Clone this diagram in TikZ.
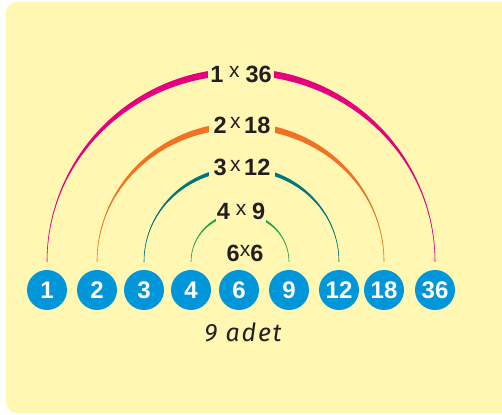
\documentclass[tikz,border=0pt]{standalone}
\usepackage{fontspec}
\setmainfont{Liberation Sans}
\newfontfamily\handfont[LetterSpace=7]{Fira Sans}
\usetikzlibrary{calc}
\definecolor{bgyel}{HTML}{FFF7B2}
\definecolor{divblue}{HTML}{0096D9}
\definecolor{arcmag}{HTML}{E5007D}
\definecolor{arcora}{HTML}{F07323}
\definecolor{arcteal}{HTML}{00757C}
\definecolor{arcgrn}{HTML}{1DA64A}
\definecolor{inkdark}{HTML}{231F20}
\newcommand{\tms}[3]{#1\raisebox{4.5pt}{\fontsize{21}{21}\selectfont\mdseries#3x#3}#2}
\newcommand{\pairarc}[5]{%
  \fill[#5] let \p1=(#1.north), \p2=(#2.north), \n1={(\x2-\x1)/2} in
    (\x1,\y1+8pt) arc[start angle=180, end angle=0, x radius={\n1*1pt}, y radius={(#3+#4/2)*1pt}]
    arc[start angle=0, end angle=180, x radius={\n1*1pt}, y radius={(#3-#4/2)*1pt}] -- cycle;
  \draw[#5, line width=0.6pt] let \p1=(#1.north), \p2=(#2.north), \n1={(\x2-\x1)/2} in
    (\x1,\y1+8pt) arc[start angle=180, end angle=0, x radius={\n1*1pt}, y radius={#3*1pt}];}
\tikzset{
  numball/.style ={circle, fill=divblue, text=white, minimum size=40pt,
                   inner sep=0pt, font=\bfseries\fontsize{24}{26}\selectfont},
  prodlbl/.style ={fill=bgyel, text=inkdark, inner xsep=4pt, minimum height=30pt,
                   font=\bfseries\fontsize{23.5}{26}\selectfont},
  cntlbl/.style  ={text=inkdark, font=\handfont\itshape\fontsize{25}{28}\selectfont},
}
\begin{document}
\begin{tikzpicture}[x=1pt, y=1pt]
\useasboundingbox (0,0) rectangle (502,414);
\fill[bgyel, rounded corners=11pt] (6,1) rectangle (520,412);
\node[numball] (n1)  at (47,124)  {1};
\node[numball] (n2)  at (97,124)  {2};
\node[numball] (n3)  at (144,124) {3};
\node[numball] (n4)  at (191,124) {4};
\node[numball] (n6)  at (239,124) {6};
\node[numball] (n9)  at (289,124) {9};
\node[numball] (n12) at (339,124) {12};
\node[numball] (n18) at (384,124) {18};
\node[numball] (n36) at (435,124) {36};
\pairarc{n1}{n36}{190}{7}{arcmag}
\pairarc{n2}{n18}{136}{6.5}{arcora}
\pairarc{n3}{n12}{93}{4.2}{arcteal}
\pairarc{n4}{n9}{48}{2.8}{arcgrn}
\node[prodlbl, inner xsep=2pt] (p1)  at (241,340)   {\tms{1}{36}{\ }};
\node[prodlbl, inner xsep=5pt] (p2)  at (242,289)   {\tms{2}{18}{\,}};
\node[prodlbl, inner xsep=5pt] (p3)  at (242,246.5) {\tms{3}{12}{\,}};
\node[prodlbl, inner xsep=1pt] (p4)  at (241,202.5) {\tms{4}{9}{\ }};
\node[prodlbl] (p6)  at (245,161) {\tms{6}{6}{}};
\node[cntlbl, anchor=base] (adet) at (243,72) {9 adet};
\end{tikzpicture}
\end{document}
